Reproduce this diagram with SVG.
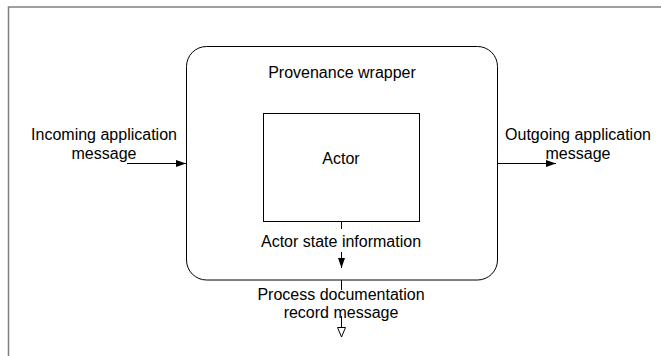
<svg xmlns="http://www.w3.org/2000/svg" width="661" height="356" viewBox="0 0 661 356">
<style>
text{font-family:"Liberation Sans",Arial,sans-serif;font-size:16px;fill:#000;text-anchor:middle}
.n{fill:#fff;stroke:#000;stroke-width:1}
.c{stroke:#000;stroke-width:1;fill:none}
</style>
<defs>
<marker id="fa" markerWidth="11" markerHeight="8" refX="10" refY="4" orient="auto" markerUnits="userSpaceOnUse">
<path d="M0,0.5 L10,4 L0,7.5 Z" fill="#000"/>
</marker>
<marker id="oa" markerWidth="11" markerHeight="9" refX="10" refY="4.5" orient="auto" markerUnits="userSpaceOnUse">
<path d="M0.5,0.5 L10,4.5 L0.5,8.5 Z" fill="#fff" stroke="#000" stroke-width="1"/>
</marker>
</defs>
<rect width="661" height="356" fill="#fff"/>
<path d="M8.5,356 V7 H661" fill="none" stroke="#808080" stroke-width="1.5"/>
<g id="wrapper">
<rect class="n" x="186.5" y="46.5" width="311" height="233.5" rx="20" ry="20"/>
<text x="342" y="78">Provenance wrapper</text>
</g>
<g id="actor">
<rect class="n" x="263.5" y="113.5" width="156" height="108"/>
<text x="341" y="164">Actor</text>
</g>
<g id="connectors">
<line class="c" x1="127" y1="163.5" x2="186" y2="163.5" marker-end="url(#fa)"/>
<line class="c" x1="498" y1="163.5" x2="556" y2="163.5" marker-end="url(#fa)"/>
<line class="c" x1="341.5" y1="222" x2="341.5" y2="229"/>
<line class="c" x1="341.5" y1="252" x2="341.5" y2="268" marker-end="url(#fa)"/>
<line class="c" x1="341.5" y1="280" x2="341.5" y2="290"/>
<line class="c" x1="341.5" y1="316" x2="341.5" y2="337" marker-end="url(#oa)"/>
</g>
<g id="labels">
<text x="104" y="140">Incoming application</text>
<text x="104" y="159">message</text>
<text x="578" y="140">Outgoing application</text>
<text x="578" y="159">message</text>
<text x="341" y="247">Actor state information</text>
<text x="341" y="300">Process documentation</text>
<text x="341" y="318">record message</text>
</g>
</svg>
